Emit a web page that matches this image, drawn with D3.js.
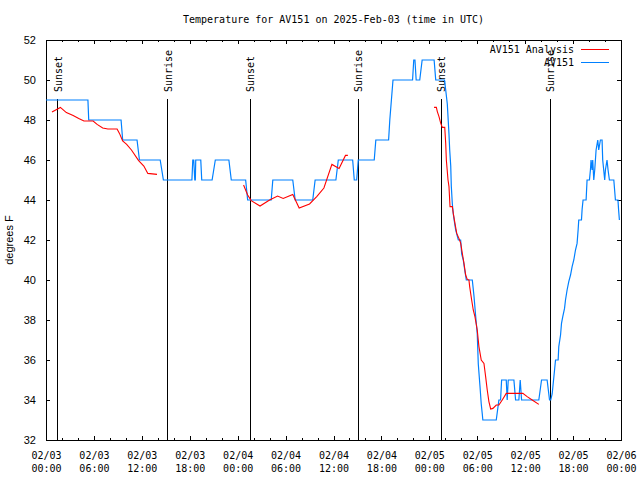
<!DOCTYPE html>
<html><head><meta charset="utf-8">
<script src="https://cdn.jsdelivr.net/npm/d3@7"></script>
<style>
body{margin:0;background:#fff;}
svg{display:block;background:#fff;}
text{font-family:"DejaVu Sans Mono","Liberation Mono",monospace;font-size:10px;fill:#000;}
.ylab text{font-family:"Liberation Sans",Arial,sans-serif;font-size:11px;}
</style></head><body>
<svg id="c" width="640" height="480"></svg>
<script>
const title = "Temperature for AV151 on 2025-Feb-03 (time in UTC)";
const yTitle = "degrees F";
const seriesNames = ["AV151 Analysis", "AV151"];
const seriesColors = ["#ff0000", "#0080ff"];
const startUTC = Date.UTC(2025, 1, 3, 0, 0);
const endUTC = Date.UTC(2025, 1, 6, 0, 0);
const yTicks = [32, 34, 36, 38, 40, 42, 44, 46, 48, 50, 52];

// observations (hours after 2025-02-03 00:00 UTC, degrees F)
const obsHours = [0,5.25,5.35,9.4,9.6,11.4,11.7,14.3,14.7,18.27,18.38,18.5,18.63,18.7,18.75,19.38,19.5,20.8,21.2,22.9,23.2,25.0,25.25,28.2,28.4,30.9,31.2,33.4,33.7,36.3,36.6,38.4,38.6,38.9,39.1,41.1,41.3,42.9,43.05,43.25,43.45,45.9,46.05,46.2,46.35,46.8,47.1,48.6,48.8,49.9,50.05,50.25,50.46,50.55,50.68,50.75,50.88,51.0,51.18,51.3,51.63,51.92,52.05,52.25,52.43,52.63,53.38,53.59,53.8,54.0,54.13,54.34,54.5,54.63,54.7,56.38,56.71,56.92,57.05,57.63,57.75,57.88,58.59,58.8,59.21,59.38,59.55,61.71,62.05,62.75,63.05,63.2,63.38,63.68,63.8,64.13,64.21,64.43,64.55,64.71,64.93,65.05,65.25,65.46,65.68,65.88,66.09,66.3,66.5,66.63,66.71,67.05,67.13,67.25,67.63,67.75,68.05,68.17,68.25,68.38,68.46,68.59,68.71,68.88,69.09,69.21,69.42,69.63,69.71,69.96,70.05,70.25,70.38,70.55,71.1,71.3,71.62,71.7,71.8];
const obsTemps = [49,49,48,48,47,47,46,46,45,45,46,46,45,45,46,46,45,45,46,46,45,45,44,44,45,45,44,44,45,45,46,46,45,45,46,46,47,47,48,49,50,50,51,51,50,50,51,51,50,50,49.5,48.8,47.3,46.5,45.7,44.7,43.8,43.3,42.8,42.5,42,42,41.3,41,40.5,40,40,39.2,38.2,37.3,35.8,34.7,33.8,33.3,33,33,34,34,35,35,34,35,35,34,34,35,34,34,35,35,34,34,34.3,35.5,36,36,36.67,37.25,37.83,38.17,38.58,39,39.5,39.92,40.25,40.67,41,41.5,41.83,42.5,43,43,43.53,44,44,45,45,45.5,46,45.5,46,45,45.5,46.5,47,46.5,47,47,46,45,45.5,46,45.5,45,45,44,44,43.5,43];

// analysis (null = gap between runs)
const anaHours = [0.75,1.8,2.55,3.4,4.1,4.75,5.9,6.4,7.1,7.75,8.9,9.2,9.6,10.1,10.7,11.6,12.25,12.75,13.9,
  14.0,
  24.74,25.25,25.7,26.8,28.0,29.0,29.7,30.9,31.7,33.0,33.9,34.8,35.8,36.7,37.5,37.8,
  38.0,
  48.59,48.88,49.0,49.21,49.43,49.63,49.93,50.05,50.13,50.34,50.46,50.59,50.88,51.0,51.21,51.43,51.71,51.93,52.13,52.34,52.55,52.75,52.96,53.05,53.3,53.5,53.71,54.0,54.21,54.5,54.84,55.05,55.25,55.46,55.68,55.96,56.38,56.71,57.13,57.63,59.71,60.25,60.88,61.71];
const anaTemps = [48.4,48.63,48.37,48.23,48.08,47.95,47.95,47.78,47.6,47.55,47.55,47.33,46.95,46.78,46.5,45.97,45.7,45.33,45.28,
  null,
  44.75,44.25,43.97,43.7,44.0,44.2,44.08,44.28,43.6,43.8,44.17,44.6,45.78,45.58,46.23,46.23,
  null,
  48.63,48.63,48.42,48.17,47.83,47.63,47.63,46.83,46.0,45.0,44.67,43.67,43.67,43.33,42.83,42.33,42.08,41.83,41.33,40.83,40.25,40.03,40.0,39.67,39.0,38.5,38.17,37.5,36.67,36.0,35.83,35.17,34.5,33.92,33.55,33.58,33.75,33.75,34.0,34.33,34.33,34.17,34.0,33.78];

const sunLabels = ["Sunset","Sunrise","Sunset","Sunrise","Sunset","Sunrise"];
const sunHours = [1.5, 15.25, 25.55, 39.13, 49.5, 63.17];

const H = 3600e3;
const toDate = h => new Date(startUTC + h * H);
const svg = d3.select("#c");
const L = 46, R = 621, T = 40, B = 440;
const x = d3.scaleUtc().domain([new Date(startUTC), new Date(endUTC)]).range([L, R]);
const y = d3.scaleLinear().domain([32, 52]).range([B, T]);

// title
svg.append("text").attr("x", (L + R) / 2).attr("y", 23).attr("text-anchor", "middle").text(title);

// axes
const majorT = d3.utcHour.every(6).range(new Date(startUTC), new Date(endUTC + 1));
const minorT = d3.utcHour.every(2).range(new Date(startUTC), new Date(endUTC + 1));
const fD = d3.utcFormat("%m/%d"), fT = d3.utcFormat("%H:%M");

const gxB = svg.append("g").attr("transform", `translate(0,${B})`)
  .call(d3.axisBottom(x).tickValues(majorT).tickSize(-4).tickSizeOuter(0).tickPadding(0).tickFormat(fD));
gxB.selectAll(".tick text").each(function(d){
  const t = d3.select(this); t.text(null).attr("y", 0).attr("dy", null);
  t.append("tspan").attr("x", 0).attr("y", 19).text(fD(d));
  t.append("tspan").attr("x", 0).attr("y", 32).text(fT(d));
}).style("font-family", '"DejaVu Sans Mono",monospace').style("font-size", "10px");
svg.append("g").attr("transform", `translate(0,${B})`)
  .call(d3.axisBottom(x).tickValues(minorT).tickSize(-2).tickSizeOuter(0).tickFormat(""));
svg.append("g").attr("transform", `translate(0,${T})`)
  .call(d3.axisTop(x).tickValues(majorT).tickSize(-4).tickSizeOuter(0).tickFormat(""));
svg.append("g").attr("transform", `translate(0,${T})`)
  .call(d3.axisTop(x).tickValues(minorT).tickSize(-2).tickSizeOuter(0).tickFormat(""));

const gyL = svg.append("g").attr("class", "ylab").attr("transform", `translate(${L},0)`)
  .call(d3.axisLeft(y).tickValues(yTicks).tickSize(-4).tickSizeOuter(0).tickPadding(10).tickFormat(d3.format("d")));
svg.append("g").attr("transform", `translate(${R},0)`)
  .call(d3.axisRight(y).tickValues(yTicks).tickSize(-4).tickSizeOuter(0).tickFormat(""));

svg.selectAll(".domain").remove();
svg.selectAll(".tick line").attr("stroke", "#000").attr("shape-rendering", "crispEdges");
svg.selectAll(".tick text").attr("fill", "#000");

// frame
svg.append("rect").attr("x", L).attr("y", T).attr("width", R - L).attr("height", B - T)
  .attr("fill", "none").attr("stroke", "#000").attr("shape-rendering", "crispEdges");

// y title
svg.append("text").attr("transform", `translate(13,${(T + B) / 2}) rotate(-90)`)
  .attr("text-anchor", "middle").style("font-family", '"Liberation Sans",Arial,sans-serif').style("font-size", "11px").text(yTitle);

// sun lines
sunHours.forEach((h, i) => {
  const xx = x(toDate(h));
  svg.append("line").attr("x1", xx).attr("x2", xx).attr("y1", 99).attr("y2", B)
    .attr("stroke", "#000").attr("stroke-width", 1).attr("shape-rendering", "crispEdges");
  svg.append("text").attr("transform", `translate(${xx + 4},92) rotate(-90)`).attr("text-anchor", "start")
    .text(sunLabels[i]);
});

// data lines
const line = d3.line().defined(d => d[1] != null).x(d => x(toDate(d[0]))).y(d => y(d[1]));
const anaData = anaHours.map((h, i) => [h, anaTemps[i]]);
const obsData = obsHours.map((h, i) => [h, obsTemps[i]]);
svg.append("path").datum(obsData).attr("d", line).attr("fill", "none")
  .attr("stroke", seriesColors[1]).attr("stroke-width", 1.2);
svg.append("path").datum(anaData).attr("d", line).attr("fill", "none")
  .attr("stroke", seriesColors[0]).attr("stroke-width", 1.1);

// legend
seriesNames.forEach((n, i) => {
  const yy = 49 + i * 13;
  svg.append("text").attr("x", 574).attr("y", yy + 4).attr("text-anchor", "end").text(n);
  svg.append("line").attr("x1", 581).attr("x2", 609).attr("y1", yy).attr("y2", yy)
    .attr("stroke", seriesColors[i]).attr("stroke-width", 1).attr("shape-rendering", "crispEdges");
});
</script>
</body></html>
